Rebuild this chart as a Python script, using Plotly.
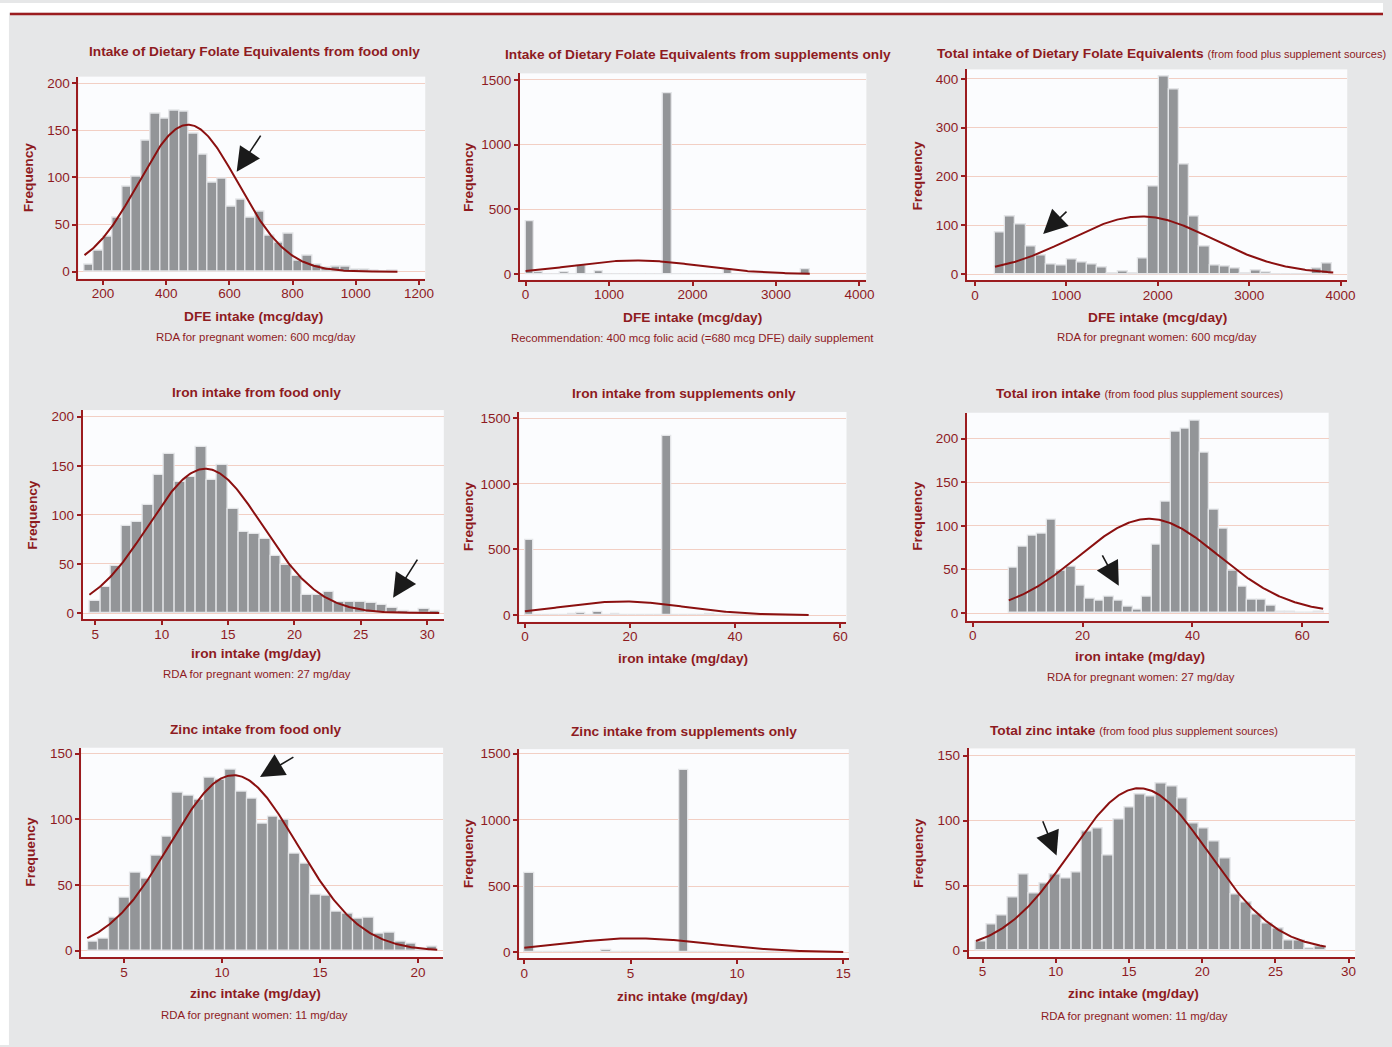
import numpy as np
import plotly.graph_objects as go

# ---------------- DATA ----------------
# Folate (DFE) from food only
folate_food_bin_start = 141
folate_food_bin_width = 30.03
folate_food_counts = [7, 22, 37, 57, 90, 101, 139, 168, 162, 171, 170, 146, 124, 95, 99, 69, 76,
                      57, 64, 38, 31, 40, 12, 17, 8, 4, 5, 5, 2, 2, 1, 0, 1]
folate_food_curve = dict(mean=469, sd=157, peak=156, xmin=141, xmax=1132)

# Folate (DFE) from supplements only
folate_supp_bin_start = 0
folate_supp_bin_width = 103.2
folate_supp_counts = [408, 13, 0, 0, 13, 0, 69, 0, 18, 0, 0, 0, 0, 0, 0, 0, 1400, 0, 0, 0, 0, 0,
                      0, 38, 0, 0, 0, 0, 0, 0, 0, 0, 33]
folate_supp_curve = dict(mean=1321, sd=757, peak=105, xmin=0, xmax=3405)

# Total folate (DFE)
folate_total_bin_start = 219
folate_total_bin_width = 111.85
folate_total_counts = [86, 118, 102, 56, 39, 19, 17, 31, 24, 19, 14, 2, 5, 2, 33, 180, 405, 379,
                       224, 118, 57, 17, 16, 12, 2, 7, 4, 0, 0, 0, 0, 12, 22]
folate_total_curve = dict(mean=1820, sd=785, peak=118, xmin=219, xmax=3920)

# Iron from food only
iron_food_bin_start = 4.576
iron_food_bin_width = 0.8
iron_food_counts = [12, 27, 48, 89, 93, 110, 141, 162, 133, 139, 169, 135, 151, 106, 83, 80, 75,
                    58, 49, 38, 18, 18, 21, 11, 11, 11, 10, 8, 5, 2, 1, 4, 2]
iron_food_curve = dict(mean=13.28, sd=4.3, peak=147, xmin=4.55, xmax=30.9)

# Iron from supplements only
iron_supp_bin_start = 0
iron_supp_bin_width = 54 / 33
iron_supp_counts = [572, 0, 0, 0, 0, 7, 12, 0, 20, 0, 7, 0, 0, 0, 0, 0, 1366, 0, 0, 0, 0, 7,
                    0, 0, 0, 0, 0, 0, 0, 0, 0, 0, 0]
iron_supp_curve = dict(mean=18.6, sd=11.6, peak=104, xmin=0, xmax=54)

# Total iron
iron_total_bin_start = 6.57
iron_total_bin_width = 1.737
iron_total_counts = [52, 76, 89, 91, 107, 49, 53, 31, 16, 14, 19, 14, 7, 4, 19, 78, 128, 208,
                     211, 221, 184, 119, 97, 49, 30, 15, 15, 8, 2, 2, 0, 0, 2]
iron_total_curve = dict(mean=32.1, sd=12.75, peak=108, xmin=6.57, xmax=63.8)

# Zinc from food only
zinc_food_bin_start = 3.16
zinc_food_bin_width = 0.5405
zinc_food_counts = [7, 9, 25, 40, 59, 55, 72, 87, 120, 118, 115, 132, 130, 138, 121, 116, 97,
                    102, 100, 74, 66, 43, 42, 30, 28, 24, 25, 13, 14, 7, 5, 1, 3]
zinc_food_curve = dict(mean=10.59, sd=3.25, peak=133.6, xmin=3.13, xmax=20.98)

# Zinc from supplements only
zinc_supp_bin_start = 0
zinc_supp_bin_width = 15 / 33
zinc_supp_counts = [594, 0, 0, 0, 0, 0, 0, 0, 17, 0, 0, 0, 0, 0, 0, 0, 1374, 0, 0, 0, 0, 0,
                    0, 0, 0, 0, 0, 0, 0, 0, 0, 0, 0]
zinc_supp_curve = dict(mean=5.25, sd=3.5, peak=105, xmin=0, xmax=15)

# Total zinc
zinc_total_bin_start = 4.547
zinc_total_bin_width = 0.724
zinc_total_counts = [7, 20, 27, 41, 59, 44, 52, 59, 56, 60, 92, 94, 73, 101, 110, 120, 119, 129,
                     126, 117, 98, 94, 84, 71, 43, 37, 28, 21, 17, 8, 8, 2, 3]
zinc_total_curve = dict(mean=15.7, sd=4.7, peak=125, xmin=4.55, xmax=28.44)

# Text
titles_bold = ["Intake of Dietary Folate Equivalents from food only",
               "Intake of Dietary Folate Equivalents from supplements only",
               "Total intake of Dietary Folate Equivalents",
               "Iron intake from food only",
               "Iron intake from supplements only",
               "Total iron intake",
               "Zinc intake from food only",
               "Zinc intake from supplements only",
               "Total zinc intake"]
title_suffix = ["", "", "(from food plus supplement sources)",
                "", "", "(from food plus supplement sources)",
                "", "", "(from food plus supplement sources)"]
x_titles = ["DFE intake (mcg/day)"] * 3 + ["iron intake (mg/day)"] * 3 + ["zinc intake (mg/day)"] * 3
notes = ["RDA for pregnant women: 600 mcg/day",
         "Recommendation: 400 mcg folic acid (=680 mcg DFE) daily supplement",
         "RDA for pregnant women: 600 mcg/day",
         "RDA for pregnant women: 27 mg/day",
         "",
         "RDA for pregnant women: 27 mg/day",
         "RDA for pregnant women: 11 mg/day",
         "",
         "RDA for pregnant women: 11 mg/day"]

x_tickvals = [[200, 400, 600, 800, 1000, 1200], [0, 1000, 2000, 3000, 4000], [0, 1000, 2000, 3000, 4000],
              [5, 10, 15, 20, 25, 30], [0, 20, 40, 60], [0, 20, 40, 60],
              [5, 10, 15, 20], [0, 5, 10, 15], [5, 10, 15, 20, 25, 30]]
y_tickvals = [[0, 50, 100, 150, 200], [0, 500, 1000, 1500], [0, 100, 200, 300, 400],
              [0, 50, 100, 150, 200], [0, 500, 1000, 1500], [0, 50, 100, 150, 200],
              [0, 50, 100, 150], [0, 500, 1000, 1500], [0, 50, 100, 150]]

# arrows: (tail x, tail y, tip x, tip y) in data units, per panel (None = no arrow)
arrows = [(702, 146, 623, 106), None, (1018, 131, 746, 82),
          (29.33, 56, 27.43, 15.5), None, (23.46, 68, 26.6, 31.2),
          (13.72, 148, 11.94, 132.3), None, (9.07, 100.8, 10.05, 73.2)]

# ---------------- STYLE / LAYOUT ----------------
W, H = 1392, 1047


def fx(px):
    return px / W


def fy(py):
    return 1 - py / H


PAPER = "#e6e7e8"
PLOTBG = "#fbfcfe"
RED = "#8e1b1f"
AXRED = "#9b1c1f"
GRID = "#f2cfc4"
BARC = "#939598"
BARLINE = "#e4e5e8"
CURVE = "#8b1010"
FONT = "Liberation Sans, Arial, sans-serif"
TITLE_SIZE = 13.7
TICK_SIZE = 13.5
NOTE_SIZE = 11.4
SUFFIX_SIZE = 11

# plot boxes in screen px: left, right, top, bottom ; ranges
boxes = [(79, 428, 74, 277), (523.3, 872, 70.7, 278), (973.3, 1356, 66.7, 278.7),
         (83.3, 446.7, 409, 619.3), (522.7, 852, 411, 621.7), (973.3, 1337.3, 411.7, 620.7),
         (81.7, 446, 748.3, 959), (522.7, 854.3, 749.7, 960), (975, 1364, 749, 958.7)]
xranges = [[122, 1220], [-68, 4083], [-87, 4073],
           [4.05, 31.25], [-1.06, 61.2], [-1.03, 64.8],
           [2.82, 21.28], [-0.234, 15.26], [4.05, 30.45]]
yranges = [[-7.4, 207], [-44, 1551], [-13, 419.6],
           [-6.4, 206.8], [-51, 1548], [-8.8, 229.7],
           [-5.1, 154.5], [-47, 1535], [-4.9, 155.6]]

title_pos = [(256.5, 48.5, "center"), (703, 52, "center"), (941, 51, "left"),
             (258.3, 391, "center"), (688, 392.3, "center"), (1147, 392.3, "center"),
             (257.3, 730, "center"), (688.3, 732.3, "center"), (1141, 730.7, "center")]
xtitle_pos = [(255.5, 315), (697.5, 316), (1165, 316),
              (258, 653.7), (687.5, 658.3), (1147.7, 657),
              (257, 995.5), (687, 998.5), (1140.8, 995.5)]
note_pos = [(257.3, 335.3), (697.3, 336.7), (1165, 335.3),
            (258.3, 674), None, (1148, 677.7),
            (255.7, 1016.5), None, (1142, 1017.5)]
freq_pos = [(28.3, 175), (471, 175), (923.3, 173),
            (32.7, 513.7), (471, 515.8), (922.7, 515.5),
            (31, 853), (471, 854.5), (924.3, 853.7)]

hist = [(folate_food_bin_start, folate_food_bin_width, folate_food_counts, folate_food_curve),
        (folate_supp_bin_start, folate_supp_bin_width, folate_supp_counts, folate_supp_curve),
        (folate_total_bin_start, folate_total_bin_width, folate_total_counts, folate_total_curve),
        (iron_food_bin_start, iron_food_bin_width, iron_food_counts, iron_food_curve),
        (iron_supp_bin_start, iron_supp_bin_width, iron_supp_counts, iron_supp_curve),
        (iron_total_bin_start, iron_total_bin_width, iron_total_counts, iron_total_curve),
        (zinc_food_bin_start, zinc_food_bin_width, zinc_food_counts, zinc_food_curve),
        (zinc_supp_bin_start, zinc_supp_bin_width, zinc_supp_counts, zinc_supp_curve),
        (zinc_total_bin_start, zinc_total_bin_width, zinc_total_counts, zinc_total_curve)]

fig = go.Figure()
layout = dict(width=W, height=H, margin=dict(l=0, r=0, t=0, b=0),
              paper_bgcolor=PAPER, plot_bgcolor=PLOTBG, showlegend=False,
              barmode="overlay", bargap=0, font=dict(family=FONT, color=RED))
annotations = []

for i in range(9):
    k = "" if i == 0 else str(i + 1)
    start, width, counts, cv = hist[i]
    counts = np.array(counts, dtype=float)
    centers = start + (np.arange(len(counts)) + 0.5) * width
    fig.add_trace(go.Bar(x=centers, y=counts, width=width,
                         marker=dict(color=BARC, line=dict(color=BARLINE, width=1.3)),
                         xaxis="x" + k, yaxis="y" + k, hoverinfo="skip"))
    xs = np.linspace(cv["xmin"], cv["xmax"], 300)
    ys = cv["peak"] * np.exp(-0.5 * ((xs - cv["mean"]) / cv["sd"]) ** 2)
    fig.add_trace(go.Scatter(x=xs, y=ys, mode="lines", line=dict(color=CURVE, width=2),
                             xaxis="x" + k, yaxis="y" + k, hoverinfo="skip"))
    l, r, t, b = boxes[i]
    layout["xaxis" + k] = dict(domain=[fx(l), fx(r)], range=xranges[i], anchor="y" + k,
                               tickvals=x_tickvals[i], showgrid=False, zeroline=False,
                               showline=True, linecolor=AXRED, linewidth=2,
                               ticks="outside", ticklen=4, tickwidth=1.5, tickcolor=AXRED,
                               ticklabelstandoff=-3,
                               tickfont=dict(family=FONT, size=TICK_SIZE, color=RED))
    layout["yaxis" + k] = dict(domain=[fy(b), fy(t)], range=yranges[i], anchor="x" + k,
                               tickvals=y_tickvals[i], showgrid=True, gridcolor=GRID, gridwidth=1,
                               zeroline=False, showline=True, linecolor=AXRED, linewidth=2,
                               ticks="outside", ticklen=4, tickwidth=1.5, tickcolor=AXRED,
                               tickfont=dict(family=FONT, size=TICK_SIZE, color=RED))
    # title
    tx, ty, al = title_pos[i]
    txt = "<b>" + titles_bold[i] + "</b>"
    if title_suffix[i]:
        txt += " <span style='font-size:%gpx'>%s</span>" % (SUFFIX_SIZE, title_suffix[i])
    annotations.append(dict(x=fx(tx), y=fy(ty), xref="paper", yref="paper", text=txt,
                            showarrow=False, xanchor=al, yanchor="middle",
                            font=dict(family=FONT, size=TITLE_SIZE, color=RED)))
    # x title
    ax_, ay_ = xtitle_pos[i]
    annotations.append(dict(x=fx(ax_), y=fy(ay_), xref="paper", yref="paper",
                            text="<b>" + x_titles[i] + "</b>", showarrow=False,
                            xanchor="center", yanchor="middle",
                            font=dict(family=FONT, size=TITLE_SIZE, color=RED)))
    if note_pos[i] is not None:
        nx, ny = note_pos[i]
        annotations.append(dict(x=fx(nx), y=fy(ny), xref="paper", yref="paper",
                                text=notes[i], showarrow=False, xanchor="center", yanchor="middle",
                                font=dict(family=FONT, size=NOTE_SIZE, color=RED)))
    qx, qy = freq_pos[i]
    annotations.append(dict(x=fx(qx), y=fy(qy), xref="paper", yref="paper",
                            text="<b>Frequency</b>", showarrow=False, textangle=-90,
                            xanchor="center", yanchor="middle",
                            font=dict(family=FONT, size=TITLE_SIZE, color=RED)))
    if arrows[i] is not None:
        x0, y0, x1, y1 = arrows[i]
        annotations.append(dict(x=x1, y=y1, xref="x" + k, yref="y" + k,
                                ax=x0, ay=y0, axref="x" + k, ayref="y" + k,
                                text="", showarrow=True, arrowhead=2, arrowsize=3,
                                arrowwidth=1.6, arrowcolor="#1a1a1a", standoff=0))

layout["annotations"] = annotations
layout["shapes"] = [
    dict(type="rect", xref="paper", yref="paper", x0=0, x1=fx(9), y0=0, y1=1,
         fillcolor="white", line=dict(width=0), layer="below"),
    dict(type="rect", xref="paper", yref="paper", x0=0, x1=1, y0=fy(9.5), y1=1,
         fillcolor="white", line=dict(width=0), layer="below"),
    dict(type="line", xref="paper", yref="paper",
         x0=fx(10), x1=1, y0=fy(11), y1=fy(11),
         line=dict(color=AXRED, width=2.5)),
]
fig.update_layout(**layout)
fig.write_html("out.html", config={"displayModeBar": False},
               post_script="document.body.style.margin='0';document.body.style.overflow='hidden';")
